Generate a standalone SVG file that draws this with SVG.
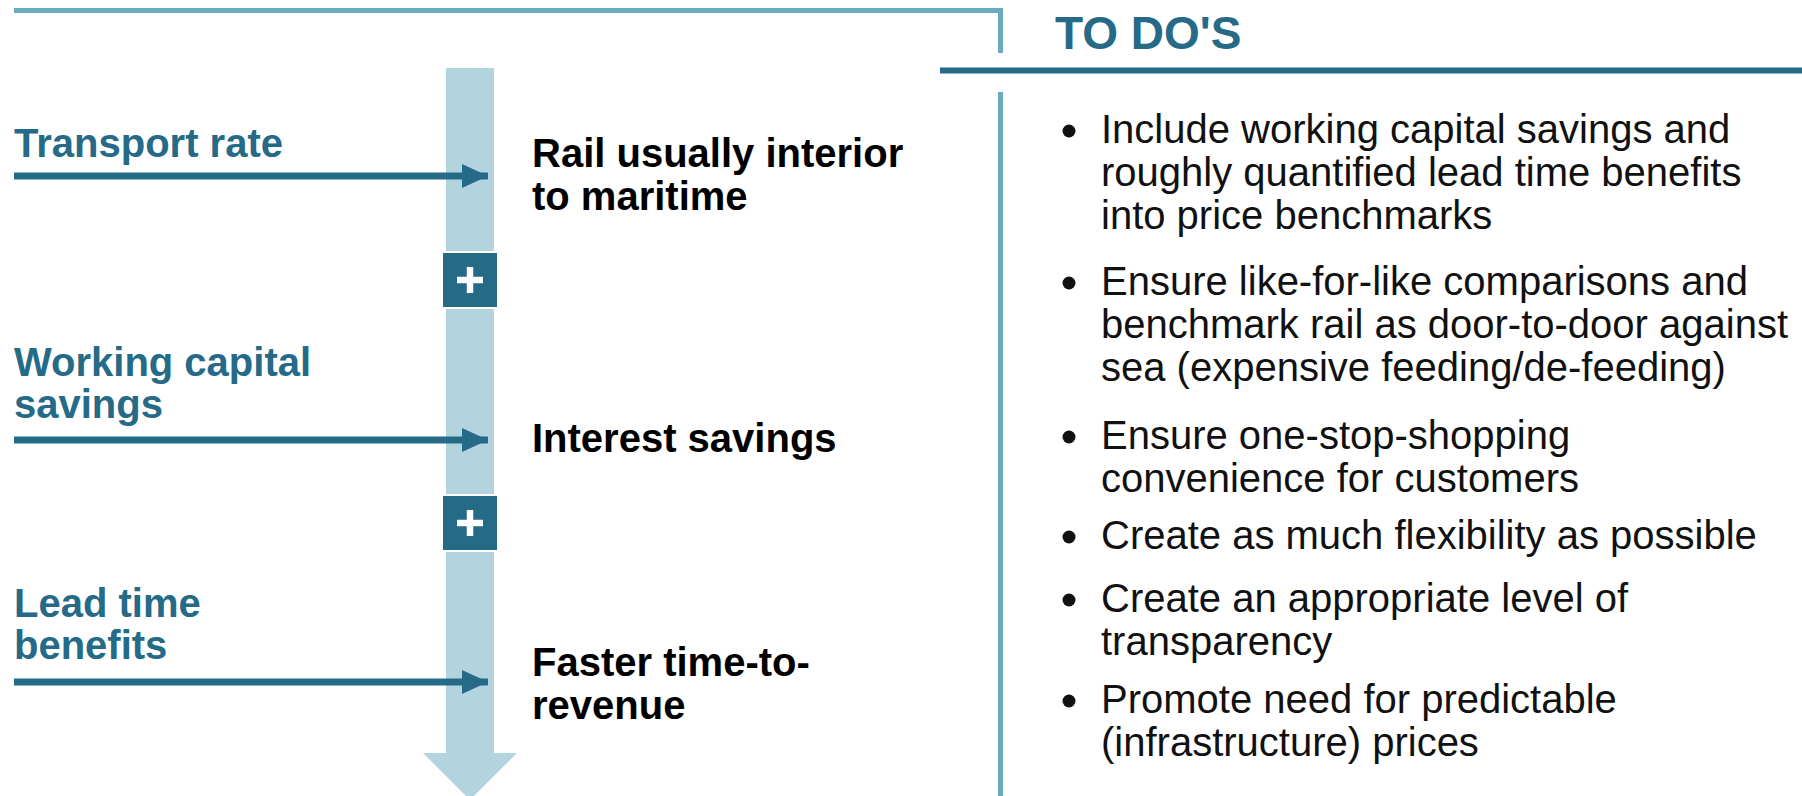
<svg xmlns="http://www.w3.org/2000/svg" width="1802" height="796" viewBox="0 0 1802 796">
<defs>
<style>
.lbl{font-family:"Liberation Sans",Arial,sans-serif;font-weight:bold;font-size:40px;fill:#256a87}
.mid{font-family:"Liberation Sans",Arial,sans-serif;font-weight:bold;font-size:40px;fill:#000}
.todo{font-family:"Liberation Sans",Arial,sans-serif;font-size:40px;fill:#111}
.hdr{font-family:"Liberation Sans",Arial,sans-serif;font-weight:bold;font-size:46px;fill:#256a87}
.arr{stroke:#256a87;stroke-width:7;fill:none}
.plus{fill:#256a87;stroke:#fff;stroke-width:2}
.pl{stroke:#fff;stroke-width:6.5}
</style>
<marker id="ah" markerUnits="userSpaceOnUse" markerWidth="28" markerHeight="28" refX="26" refY="14" orient="auto">
<path d="M0,2 L26,14 L0,26 Z" fill="#256a87"/>
</marker>
</defs>
<rect width="1802" height="796" fill="#fff"/>
<g id="frame">
<path d="M14,10.5 H1000.5 V53" fill="none" stroke="#6aabc0" stroke-width="5"/>
<line x1="1000.5" y1="92" x2="1000.5" y2="796" stroke="#6aabc0" stroke-width="5"/>
<line x1="940" y1="70.5" x2="1802" y2="70.5" stroke="#256a87" stroke-width="6"/>
</g>
<g id="flow-bar">
<path d="M446,68 H494 V753 H517 L470,800 L423,753 H446 Z" fill="#b3d4df"/>
</g>
<g id="plus1">
<rect class="plus" x="442" y="252" width="56" height="56"/>
<line class="pl" x1="457" y1="280" x2="483" y2="280"/>
<line class="pl" x1="470" y1="267" x2="470" y2="293"/>
</g>
<g id="plus2">
<rect class="plus" x="442" y="495" width="56" height="56"/>
<line class="pl" x1="457" y1="523" x2="483" y2="523"/>
<line class="pl" x1="470" y1="510" x2="470" y2="536"/>
</g>
<g id="connectors">
<line class="arr" x1="14" y1="176" x2="488" y2="176" marker-end="url(#ah)"/>
<line class="arr" x1="14" y1="440" x2="488" y2="440" marker-end="url(#ah)"/>
<line class="arr" x1="14" y1="682" x2="488" y2="682" marker-end="url(#ah)"/>
</g>
<g id="label-transport"><text class="lbl" x="14" y="157">Transport rate</text></g>
<g id="label-wc"><text class="lbl" x="14" y="376">Working capital</text><text class="lbl" x="14" y="418">savings</text></g>
<g id="label-lead"><text class="lbl" x="14" y="617">Lead time</text><text class="lbl" x="14" y="659">benefits</text></g>
<g id="mid-rail"><text class="mid" x="532" y="167">Rail usually interior</text><text class="mid" x="532" y="210">to maritime</text></g>
<g id="mid-interest"><text class="mid" x="532" y="452">Interest savings</text></g>
<g id="mid-faster"><text class="mid" x="532" y="676">Faster time-to-</text><text class="mid" x="532" y="719">revenue</text></g>
<g id="todo-header"><text class="hdr" x="1055" y="49">TO DO'S</text></g>
<g id="todo-list">
<g fill="#111">
<circle cx="1069" cy="131" r="6.5"/>
<circle cx="1069" cy="283" r="6.5"/>
<circle cx="1069" cy="437" r="6.5"/>
<circle cx="1069" cy="537" r="6.5"/>
<circle cx="1069" cy="600" r="6.5"/>
<circle cx="1069" cy="701" r="6.5"/>
</g>
<text class="todo" x="1101" y="143">Include working capital savings and</text>
<text class="todo" x="1101" y="186">roughly quantified lead time benefits</text>
<text class="todo" x="1101" y="229">into price benchmarks</text>
<text class="todo" x="1101" y="295">Ensure like-for-like comparisons and</text>
<text class="todo" x="1101" y="338">benchmark rail as door-to-door against</text>
<text class="todo" x="1101" y="381">sea (expensive feeding/de-feeding)</text>
<text class="todo" x="1101" y="449">Ensure one-stop-shopping</text>
<text class="todo" x="1101" y="492">convenience for customers</text>
<text class="todo" x="1101" y="549">Create as much flexibility as possible</text>
<text class="todo" x="1101" y="612">Create an appropriate level of</text>
<text class="todo" x="1101" y="655">transparency</text>
<text class="todo" x="1101" y="713">Promote need for predictable</text>
<text class="todo" x="1101" y="756">(infrastructure) prices</text>
</g>
</svg>
